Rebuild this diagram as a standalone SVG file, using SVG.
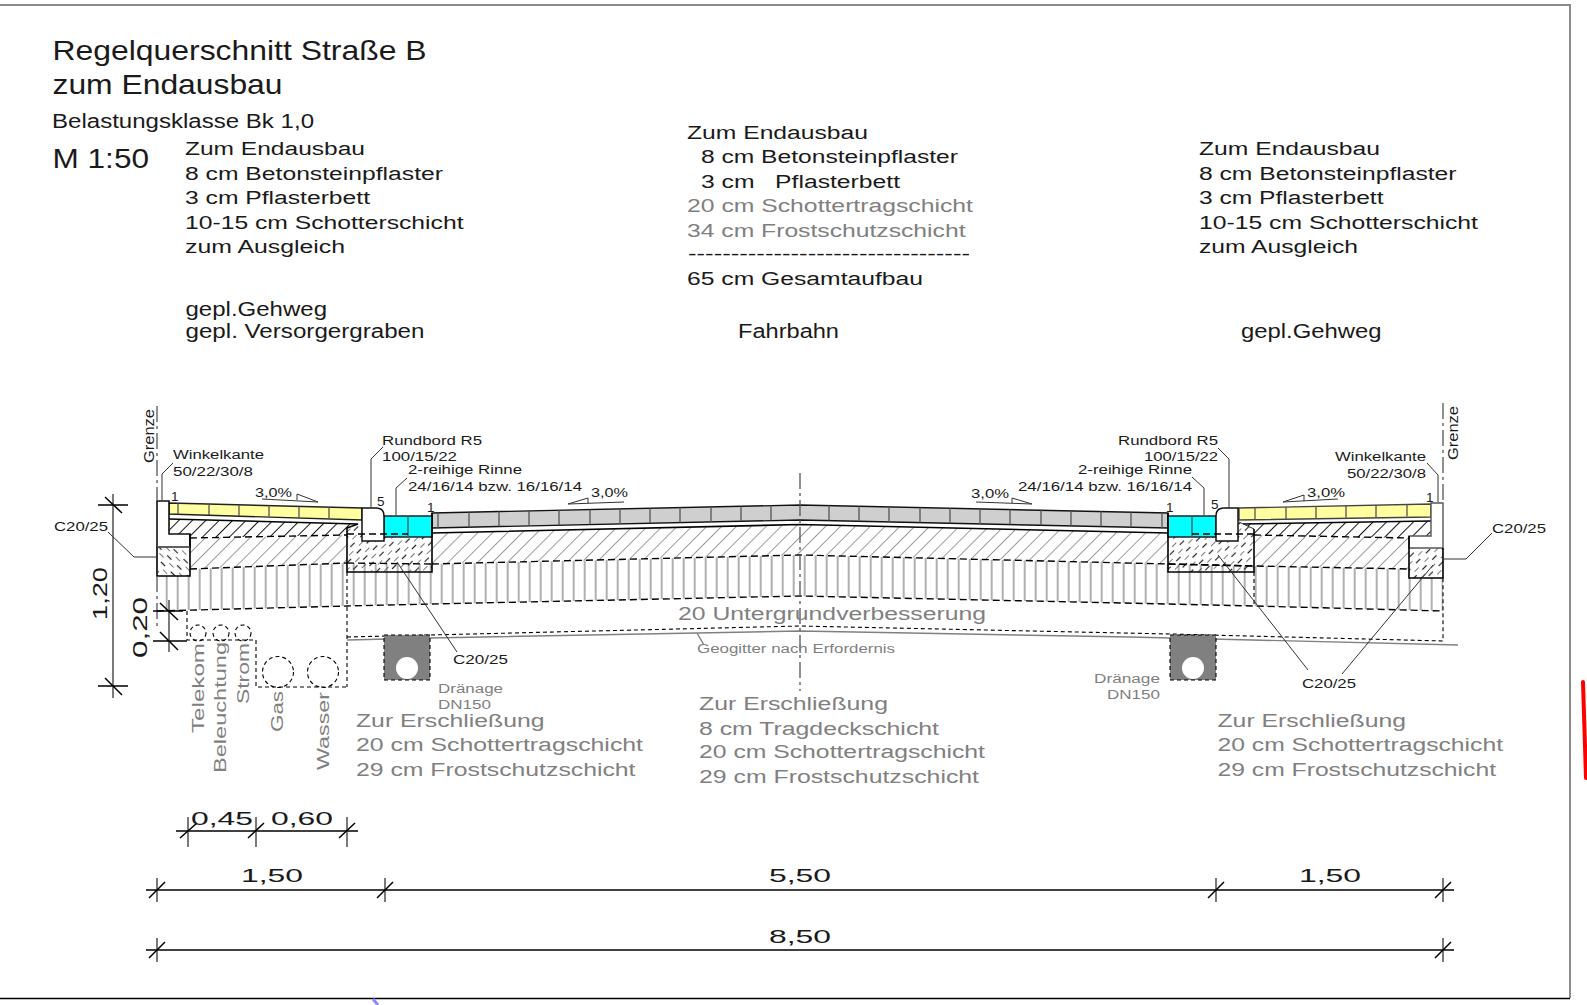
<svg xmlns="http://www.w3.org/2000/svg" width="1587" height="1005" viewBox="0 0 1587 1005">
<style>
text{font-family:"Liberation Sans",Arial,sans-serif;fill:#1a1a1a}
.g{fill:#808080}
.t27{font-size:28px}.t20{font-size:18px}.t19{font-size:19.500px}.t21{font-size:20px}.t14{font-size:12.500px}.t13{font-size:13.500px}.t15{font-size:15px}.t16{font-size:16px}.dimt{font-size:19px}.dimv{font-size:21px}
.ln{fill:none;stroke:#000;stroke-width:1.6}
.thin{fill:none;stroke:#333;stroke-width:1}
.gl{fill:none;stroke:#808080;stroke-width:1.4}
.dash{fill:none;stroke:#000;stroke-width:1.4;stroke-dasharray:7 4}
.sd{fill:none;stroke:#000;stroke-width:1.1;stroke-dasharray:4 3}
.dd{fill:none;stroke:#555;stroke-width:1.3;stroke-dasharray:16 4 3 4}
.tick{stroke:#000;stroke-width:1.5;fill:none}
.dim{stroke:#333;stroke-width:1.3;fill:none}
.joint{stroke:#555;stroke-width:1.3;fill:none}
</style>
<defs>
<pattern id="hg" patternUnits="userSpaceOnUse" width="10.5" height="10.5" patternTransform="rotate(45)"><line x1="0" y1="0" x2="0" y2="10.5" stroke="#9a9a9a" stroke-width="2"/></pattern>
<pattern id="hb" patternUnits="userSpaceOnUse" width="9.5" height="9.5" patternTransform="rotate(45)"><line x1="0" y1="0" x2="0" y2="9.5" stroke="#111" stroke-width="2"/></pattern>
<pattern id="vl" patternUnits="userSpaceOnUse" x="0.7" width="11" height="20"><line x1="1" y1="0" x2="1" y2="20" stroke="#b0b0b0" stroke-width="2"/></pattern>
<pattern id="c1" patternUnits="userSpaceOnUse" width="9" height="14" patternTransform="rotate(45)"><line x1="0" y1="0" x2="0" y2="6" stroke="#222" stroke-width="1.2"/><line x1="4.5" y1="7" x2="4.5" y2="13" stroke="#222" stroke-width="1.2"/></pattern>
<pattern id="c2" patternUnits="userSpaceOnUse" width="9" height="14" patternTransform="rotate(-45)"><line x1="0" y1="0" x2="0" y2="6" stroke="#222" stroke-width="1.2"/><line x1="4.5" y1="7" x2="4.5" y2="13" stroke="#222" stroke-width="1.2"/></pattern>
</defs>
<rect width="1587" height="1005" fill="#fff"/>

<g id="frame">
<path d="M0 5H1570V998" fill="none" stroke="#8a8a8a" stroke-width="2"/>
<path d="M0 998.5H1570" fill="none" stroke="#000" stroke-width="1.5"/>
<path d="M1583 682L1586 778" fill="none" stroke="#f00" stroke-width="4" stroke-linecap="round"/>
<path d="M373 999L378 1005" fill="none" stroke="#8a8aff" stroke-width="3"/>
</g>

<g id="title">
<text class="t27" x="52.5" y="60" textLength="374" lengthAdjust="spacingAndGlyphs">Regelquerschnitt Straße B</text>
<text class="t27" x="52.5" y="94" textLength="230" lengthAdjust="spacingAndGlyphs">zum Endausbau</text>
<text class="t19" x="52" y="127.500" textLength="262" lengthAdjust="spacingAndGlyphs">Belastungsklasse Bk 1,0</text>
<text class="t27" x="52.5" y="168" textLength="96.5" lengthAdjust="spacingAndGlyphs">M 1:50</text>
</g>

<g id="legend-left">
<text class="t20" x="185" y="155" textLength="180" lengthAdjust="spacingAndGlyphs">Zum Endausbau</text>
<text class="t20" x="185" y="179.500" textLength="258" lengthAdjust="spacingAndGlyphs">8 cm Betonsteinpflaster</text>
<text class="t20" x="185" y="204" textLength="185" lengthAdjust="spacingAndGlyphs">3 cm Pflasterbett</text>
<text class="t20" x="185" y="228.500" textLength="278.500" lengthAdjust="spacingAndGlyphs">10-15 cm Schotterschicht</text>
<text class="t20" x="185" y="252.500" textLength="160" lengthAdjust="spacingAndGlyphs">zum Ausgleich</text>
<text class="t21" x="185.500" y="316" textLength="141.500" lengthAdjust="spacingAndGlyphs">gepl.Gehweg</text>
<text class="t21" x="185.500" y="338" textLength="239" lengthAdjust="spacingAndGlyphs">gepl. Versorgergraben</text>
</g>

<g id="legend-center">
<text class="t20" x="687" y="138.500" textLength="181" lengthAdjust="spacingAndGlyphs">Zum Endausbau</text>
<text class="t20" x="701" y="162.500" textLength="257" lengthAdjust="spacingAndGlyphs">8 cm Betonsteinpflaster</text>
<text class="t20" x="701" y="187.500" xml:space="preserve" textLength="199" lengthAdjust="spacingAndGlyphs">3 cm   Pflasterbett</text>
<text class="t20 g" x="687" y="212" textLength="286" lengthAdjust="spacingAndGlyphs">20 cm Schottertragschicht</text>
<text class="t20 g" x="687" y="236.500" textLength="278.500" lengthAdjust="spacingAndGlyphs">34 cm Frostschutzschicht</text>
<text class="t20" x="688" y="260" textLength="282" lengthAdjust="spacingAndGlyphs">---------------------------------</text>
<text class="t20" x="687" y="284.500" textLength="236" lengthAdjust="spacingAndGlyphs">65 cm Gesamtaufbau</text>
<text class="t21" x="738" y="338" textLength="101" lengthAdjust="spacingAndGlyphs">Fahrbahn</text>
</g>

<g id="legend-right">
<text class="t20" x="1199" y="155" textLength="181" lengthAdjust="spacingAndGlyphs">Zum Endausbau</text>
<text class="t20" x="1199" y="179.500" textLength="257.500" lengthAdjust="spacingAndGlyphs">8 cm Betonsteinpflaster</text>
<text class="t20" x="1199" y="204" textLength="184.500" lengthAdjust="spacingAndGlyphs">3 cm Pflasterbett</text>
<text class="t20" x="1199" y="228.500" textLength="279" lengthAdjust="spacingAndGlyphs">10-15 cm Schotterschicht</text>
<text class="t20" x="1199" y="252.500" textLength="159" lengthAdjust="spacingAndGlyphs">zum Ausgleich</text>
<text class="t21" x="1241" y="338" textLength="140.500" lengthAdjust="spacingAndGlyphs">gepl.Gehweg</text>
</g>

<g id="layers">
<path fill="url(#vl)" d="M157 576H190V569L347 563L432 564L800 555L1168 564L1254 566L1409 569V578H1443V611L1254 606L800 596L347 606L157 611Z"/>
<path fill="url(#hg)" d="M190 538L347 535V563L190 569Z"/>
<path fill="url(#hg)" d="M432 533L800 525L1168 533V564L800 555L432 564Z"/>
<path fill="url(#hg)" d="M1254 535L1409 538V569L1254 566Z"/>
<path fill="url(#hb)" d="M169 519L358 524L347 528V535L190 538V534H169Z"/>
<path fill="url(#hb)" d="M1243 524L1431 521V536H1409V538L1254 535V529Z"/>
<path fill="url(#c2)" d="M158 547H190V576H158Z"/>
<path fill="url(#c1)" d="M347 528L362 522V541H384V537H432V572H347Z"/>
<path fill="url(#c1)" d="M1168 537H1216V541H1238V522L1254 529V572H1168Z"/>
<path fill="url(#c1)" d="M1409 548H1443V578H1409Z"/>
</g>

<g id="sidewalk-left">
<path fill="#ffff9f" stroke="#222" stroke-width="1.4" d="M169 503L362 508V520L169 514Z"/>
<path class="joint" d="M178 503.300V514.300M209 504V515M239 505V516M269 505.600V516.600M299 506.400V517.400M329 507.200V518.200"/>
<path class="ln" d="M169 519L358 524L347 528"/>
</g>
<g id="sidewalk-right">
<path fill="#ffff9f" stroke="#444" stroke-width="1.4" d="M1239 508L1431 504V517L1239 520Z"/>
<path class="joint" d="M1255 507.700V519.700M1286 507V519M1316 506.400V518.400M1346 505.800V517.800M1376 505.100V517.100M1407 504.500V516.500"/>
<path class="ln" d="M1243 524L1431 521"/>
<path class="thin" d="M1239 522L1254 529"/>
</g>
<g id="road">
<path fill="#cfcfcf" stroke="#111" stroke-width="1.4" d="M432 513L800 505L1168 513V528L800 520L432 528Z"/>
<path class="joint" d="M438 512.900V527.900M469 512.200V527.200M499 511.500V526.500M529 510.900V525.900M559 510.200V525.200M590 509.500V524.500M620 508.900V523.900M650 508.300V523.300M680 507.600V522.600M711 506.900V521.900M741 506.300V521.300M771 505.600V520.600M829 505.600V520.600M859 506.300V521.300M889 506.900V521.900M920 507.600V522.600M950 508.300V523.300M980 508.900V523.900M1010 509.500V524.500M1041 510.200V525.200M1071 510.900V525.900M1101 511.500V526.500M1131 512.200V527.200M1162 512.900V527.900"/>
<path class="ln" d="M432 533L800 524.500L1168 533"/>
</g>
<g id="gutter-left">
<path fill="#00ffff" stroke="#222" stroke-width="1.4" d="M384 516H432V537H384Z"/>
<path class="joint" d="M408 516V537"/>
</g>
<g id="gutter-right">
<path fill="#00ffff" stroke="#222" stroke-width="1.4" d="M1168 516H1216V537H1168Z"/>
<path class="joint" d="M1192 516V537"/>
</g>
<g id="kerb-left"><path fill="#fff" stroke="#111" stroke-width="1.5" d="M362 508H376Q384 508 384 516V541H362Z"/></g>
<g id="kerb-right"><path fill="#fff" stroke="#111" stroke-width="1.5" d="M1238 508H1224Q1216 508 1216 516V541H1238Z"/></g>
<g id="angle-left"><path fill="#fff" stroke="#111" stroke-width="1.6" d="M157 501H169V534H190V547H157Z"/><path class="ln" d="M190 534V576H157V547"/><path d="M157 547H190" stroke="#777" stroke-width="1.2"/></g>
<g id="angle-right"><path fill="#fff" stroke="#555" stroke-width="1.4" d="M1443 503H1431V536H1409V548H1443Z"/><path class="ln" d="M1409 536V578H1443V548"/></g>
<g id="concrete-outlines">
<path class="ln" d="M347 528V572H432V513"/>
<path class="ln" d="M1168 513V572H1254V529"/>
</g>

<g id="connectors">
<path class="dash" d="M190 538L347 535M190 569L347 563M157 611L347 606L432 604L800 596L1168 604L1254 606L1443 611"/>
<path class="dash" d="M432 564L800 555L1168 564L1254 566L1409 569M1254 535L1409 538"/>
<path class="dash" d="M347 563L432 564M1168 564L1254 566"/>
<path class="dash" d="M347 534H408M1192 534H1254"/>
<path class="sd" d="M347 572V687M347 637L430 635L800 626L1170 634L1443 641V578M1254 572V606"/>
<path class="gl" d="M347 640L430 638L800 631L1130 637L1458 645"/>
<path class="gl" d="M697 633L704 645"/>
<path class="dd" d="M157 406V500M157 576V630"/>
<path class="dd" d="M1443 403V500"/>
<path class="dd" d="M800 473V691"/>
<path class="sd" d="M187 611V640H256V687H347"/>
<path class="thin" d="M162 500V474L173 463"/>
<path class="thin" d="M1438 502V475L1427 463"/>
<path class="thin" d="M371 507V459L383 447"/>
<path class="thin" d="M1229 508V459L1218 448"/>
<path class="thin" d="M396 515V488L407 478"/>
<path class="thin" d="M1204 515V488L1192 477"/>
<path class="thin" d="M108 532L134 557H157"/>
<path class="thin" d="M1443 559H1466L1492 533"/>
<path class="thin" d="M397 562L457 652"/>
<path class="thin" d="M1218 555L1308 670"/>
<path class="thin" d="M1433 565L1342 674"/>
<path class="thin" d="M262 499L318 502L297 494V500"/>
<path class="thin" d="M624 502L568 504L588 498V503"/>
<path class="thin" d="M976 502L1032 504L1012 498V503"/>
<path class="thin" d="M1338 499L1283 502L1304 495V501"/>
</g>

<g id="services">
<g class="sd">
<circle cx="198" cy="633" r="8"/><circle cx="221" cy="633" r="8"/><circle cx="243" cy="633" r="8"/>
<circle cx="278" cy="672" r="15.500"/><circle cx="323" cy="672" r="15.500"/>
</g>
<text class="t16 g" transform="translate(204 733) rotate(-90)" textLength="90" lengthAdjust="spacingAndGlyphs">Telekom</text>
<text class="t16 g" transform="translate(226 773) rotate(-90)" textLength="131" lengthAdjust="spacingAndGlyphs">Beleuchtung</text>
<text class="t16 g" transform="translate(249 704) rotate(-90)" textLength="61" lengthAdjust="spacingAndGlyphs">Strom</text>
<text class="t16 g" transform="translate(283 732) rotate(-90)" textLength="41" lengthAdjust="spacingAndGlyphs">Gas</text>
<text class="t16 g" transform="translate(329 770) rotate(-90)" textLength="78" lengthAdjust="spacingAndGlyphs">Wasser</text>
</g>

<g id="drain-left"><rect x="384" y="635" width="46" height="45" fill="#808080"/><rect x="384" y="635" width="46" height="45" class="sd"/><circle cx="407" cy="668" r="11" fill="#fff"/></g>
<g id="drain-right"><rect x="1170" y="635" width="46" height="45" fill="#808080"/><rect x="1170" y="635" width="46" height="45" class="sd"/><circle cx="1193" cy="668" r="11" fill="#fff"/></g>

<g id="labels">
<text class="t15" transform="translate(154 463) rotate(-90)" textLength="54" lengthAdjust="spacingAndGlyphs">Grenze</text>
<text class="t15" transform="translate(1458 460) rotate(-90)" textLength="54" lengthAdjust="spacingAndGlyphs">Grenze</text>
<text class="t14" x="173" y="458.500" textLength="91" lengthAdjust="spacingAndGlyphs">Winkelkante</text>
<text class="t14" x="173" y="475.500" textLength="80" lengthAdjust="spacingAndGlyphs">50/22/30/8</text>
<text class="t14" x="1335" y="460.500" textLength="91" lengthAdjust="spacingAndGlyphs">Winkelkante</text>
<text class="t14" x="1347" y="477.500" textLength="79" lengthAdjust="spacingAndGlyphs">50/22/30/8</text>
<text class="t14" x="382" y="444.500" textLength="100" lengthAdjust="spacingAndGlyphs">Rundbord R5</text>
<text class="t14" x="382" y="460.500" textLength="75" lengthAdjust="spacingAndGlyphs">100/15/22</text>
<text class="t14" x="408" y="473.500" textLength="114" lengthAdjust="spacingAndGlyphs">2-reihige Rinne</text>
<text class="t14" x="408" y="490.500" textLength="174" lengthAdjust="spacingAndGlyphs">24/16/14 bzw. 16/16/14</text>
<text class="t14" x="1118" y="444.500" textLength="100" lengthAdjust="spacingAndGlyphs">Rundbord R5</text>
<text class="t14" x="1144" y="460.500" textLength="74" lengthAdjust="spacingAndGlyphs">100/15/22</text>
<text class="t14" x="1078" y="473.500" textLength="114" lengthAdjust="spacingAndGlyphs">2-reihige Rinne</text>
<text class="t14" x="1018" y="490.500" textLength="174" lengthAdjust="spacingAndGlyphs">24/16/14 bzw. 16/16/14</text>
<text class="t13" x="54" y="530.500" textLength="54" lengthAdjust="spacingAndGlyphs">C20/25</text>
<text class="t13" x="453" y="663.500" textLength="55" lengthAdjust="spacingAndGlyphs">C20/25</text>
<text class="t13" x="1302" y="687.500" textLength="54" lengthAdjust="spacingAndGlyphs">C20/25</text>
<text class="t13" x="1492" y="532.500" textLength="54" lengthAdjust="spacingAndGlyphs">C20/25</text>
<text class="t13" x="171" y="501">1</text>
<text class="t13" x="377" y="506">5</text>
<text class="t13" x="427" y="512">1</text>
<text class="t13" x="1166" y="512">1</text>
<text class="t13" x="1211" y="509">5</text>
<text class="t13" x="1426" y="502">1</text>
<text class="t13" x="255" y="497" textLength="37" lengthAdjust="spacingAndGlyphs">3,0%</text>
<text class="t13" x="591" y="497" textLength="37" lengthAdjust="spacingAndGlyphs">3,0%</text>
<text class="t13" x="971" y="498" textLength="38" lengthAdjust="spacingAndGlyphs">3,0%</text>
<text class="t13" x="1307" y="497" textLength="38" lengthAdjust="spacingAndGlyphs">3,0%</text>
<text class="t20 g" x="678" y="620" textLength="308" lengthAdjust="spacingAndGlyphs">20 Untergrundverbesserung</text>
<text class="t14 g" x="697" y="653" textLength="198" lengthAdjust="spacingAndGlyphs">Geogitter nach Erfordernis</text>
<text class="t14 g" x="438" y="693" textLength="65" lengthAdjust="spacingAndGlyphs">Dränage</text>
<text class="t14 g" x="438" y="709" textLength="53" lengthAdjust="spacingAndGlyphs">DN150</text>
<text class="t14 g" x="1094" y="683" textLength="66" lengthAdjust="spacingAndGlyphs">Dränage</text>
<text class="t14 g" x="1107" y="698.500" textLength="53" lengthAdjust="spacingAndGlyphs">DN150</text>
</g>

<g id="note-left">
<text class="t20 g" x="356" y="726.500" textLength="188.500" lengthAdjust="spacingAndGlyphs">Zur Erschließung</text>
<text class="t20 g" x="356" y="750.500" textLength="287" lengthAdjust="spacingAndGlyphs">20 cm Schottertragschicht</text>
<text class="t20 g" x="356" y="775.500" textLength="279.500" lengthAdjust="spacingAndGlyphs">29 cm Frostschutzschicht</text>
</g>
<g id="note-center">
<text class="t20 g" x="699" y="710" textLength="189" lengthAdjust="spacingAndGlyphs">Zur Erschließung</text>
<text class="t20 g" x="699" y="734.500" textLength="240" lengthAdjust="spacingAndGlyphs">8 cm Tragdeckschicht</text>
<text class="t20 g" x="699" y="757.500" textLength="286" lengthAdjust="spacingAndGlyphs">20 cm Schottertragschicht</text>
<text class="t20 g" x="699" y="782.500" textLength="280" lengthAdjust="spacingAndGlyphs">29 cm Frostschutzschicht</text>
</g>
<g id="note-right">
<text class="t20 g" x="1217.5" y="726.500" textLength="188.500" lengthAdjust="spacingAndGlyphs">Zur Erschließung</text>
<text class="t20 g" x="1217.5" y="750.500" textLength="285.500" lengthAdjust="spacingAndGlyphs">20 cm Schottertragschicht</text>
<text class="t20 g" x="1217.5" y="775.500" textLength="278.500" lengthAdjust="spacingAndGlyphs">29 cm Frostschutzschicht</text>
</g>

<g id="dimensions">
<path class="dim" d="M113 494V698"/>
<path class="tick" d="M98 505H128M98 686H128M105 497L122 513M105 678L122 695"/>
<path class="dim" d="M169 600V652"/>
<path class="tick" d="M153 611H183M153 641H187M160 603L178 620M160 632L178 650"/>
<text class="dimv" transform="translate(107 620) rotate(-90)" textLength="53" lengthAdjust="spacingAndGlyphs">1,20</text>
<text class="dimv" transform="translate(147 658) rotate(-90)" textLength="61" lengthAdjust="spacingAndGlyphs">0,20</text>
<path class="tick" d="M176 831H358"/>
<path class="dim" d="M188 817V847M256 817V847M347 817V847"/>
<path class="tick" d="M180 838L197 823M248 838L264 823M339 838L355 823"/>
<text class="dimt" x="191" y="825" textLength="62" lengthAdjust="spacingAndGlyphs">0,45</text>
<text class="dimt" x="271" y="825" textLength="62" lengthAdjust="spacingAndGlyphs">0,60</text>
<path class="tick" d="M146 890H1454"/>
<path class="dim" d="M157 878V902M385 878V902M1216 878V902M1443 878V902"/>
<path class="tick" d="M149 898L165 882M377 898L393 882M1208 898L1224 882M1435 898L1451 882"/>
<text class="dimt" x="241" y="882" textLength="62" lengthAdjust="spacingAndGlyphs">1,50</text>
<text class="dimt" x="769" y="882" textLength="62" lengthAdjust="spacingAndGlyphs">5,50</text>
<text class="dimt" x="1299" y="882" textLength="62" lengthAdjust="spacingAndGlyphs">1,50</text>
<path class="tick" d="M146 950H1454"/>
<path class="dim" d="M157 938V962M1443 938V962"/>
<path class="tick" d="M149 958L165 942M1435 958L1451 942"/>
<text class="dimt" x="769" y="943" textLength="62" lengthAdjust="spacingAndGlyphs">8,50</text>
</g>
</svg>
